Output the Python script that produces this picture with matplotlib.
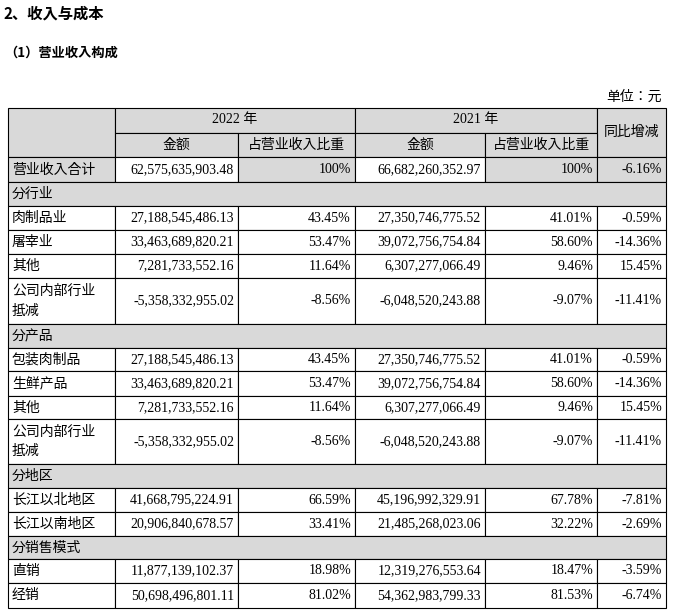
import matplotlib.pyplot as plt
from matplotlib import font_manager
from matplotlib.patches import Rectangle

# find an installed CJK family by its real registered name
cjk_names = sorted({f.name for f in font_manager.fontManager.ttflist if 'CJK' in f.name})
cjk = next((n for n in cjk_names if 'SC' in n), cjk_names[0] if cjk_names else 'DejaVu Sans')
plt.rcParams['font.family'] = ['Liberation Serif', cjk]

# table data
row_labels = ['营业收入合计', '分行业', '肉制品业', '屠宰业', '其他', '公司内部行业\n抵减',
              '分产品', '包装肉制品', '生鲜产品', '其他', '公司内部行业\n抵减',
              '分地区', '长江以北地区', '长江以南地区', '分销售模式', '直销', '经销']
amount_2022 = ['62,575,635,903.48', None, '27,188,545,486.13', '33,463,689,820.21', '7,281,733,552.16',
               '-5,358,332,955.02', None, '27,188,545,486.13', '33,463,689,820.21', '7,281,733,552.16',
               '-5,358,332,955.02', None, '41,668,795,224.91', '20,906,840,678.57', None,
               '11,877,139,102.37', '50,698,496,801.11']
share_2022 = ['100%', None, '43.45%', '53.47%', '11.64%', '-8.56%', None, '43.45%', '53.47%', '11.64%',
              '-8.56%', None, '66.59%', '33.41%', None, '18.98%', '81.02%']
amount_2021 = ['66,682,260,352.97', None, '27,350,746,775.52', '39,072,756,754.84', '6,307,277,066.49',
               '-6,048,520,243.88', None, '27,350,746,775.52', '39,072,756,754.84', '6,307,277,066.49',
               '-6,048,520,243.88', None, '45,196,992,329.91', '21,485,268,023.06', None,
               '12,319,276,553.64', '54,362,983,799.33']
share_2021 = ['100%', None, '41.01%', '58.60%', '9.46%', '-9.07%', None, '41.01%', '58.60%', '9.46%',
              '-9.07%', None, '67.78%', '32.22%', None, '18.47%', '81.53%']
yoy = ['-6.16%', None, '-0.59%', '-14.36%', '15.45%', '-11.41%', None, '-0.59%', '-14.36%', '15.45%',
       '-11.41%', None, '-7.81%', '-2.69%', None, '-3.59%', '-6.74%']

col_x = [8, 115, 238, 355, 485, 597, 666]
row_y = [157, 182, 206, 230, 254, 278, 324, 348, 371, 396, 419, 464, 488, 512, 536, 559, 583, 608]
gray = '#d9d9d9'

fig = plt.figure(figsize=(6.74, 6.13), dpi=100)
ax = fig.add_axes([0, 0, 1, 1])
ax.set_xlim(0, 674)
ax.set_ylim(613, 0)
ax.axis('off')


def cell(x0, x1, y0, y1, color='white'):
    ax.add_patch(Rectangle((x0, y0), x1 - x0, y1 - y0, facecolor=color, edgecolor='black', lw=0.8))


def cjk_text(x, y, s, **kw):
    ax.text(x, y, s, family=cjk, **kw)


fs = 10
cjk_text(4, 14, '2、收入与成本', fontsize=11, fontweight='bold', va='center')
cjk_text(4, 53, '（1）营业收入构成', fontsize=9.5, fontweight='bold', va='center')
cjk_text(662, 97, '单位：元', fontsize=fs, ha='right', va='center')

# header
cell(col_x[0], col_x[1], 108, 157, gray)
cell(col_x[1], col_x[3], 108, 133, gray)
cell(col_x[3], col_x[5], 108, 133, gray)
cell(col_x[5], col_x[6], 108, 157, gray)
for i in range(1, 5):
    cell(col_x[i], col_x[i + 1], 133, 157, gray)
ax.text((col_x[1] + col_x[3]) / 2, 120, '2022 年', fontsize=fs, ha='center', va='center')
ax.text((col_x[3] + col_x[5]) / 2, 120, '2021 年', fontsize=fs, ha='center', va='center')
cjk_text((col_x[5] + col_x[6]) / 2, 132, '同比增减', fontsize=fs, ha='center', va='center')
for i, lab in enumerate(['金额', '占营业收入比重', '金额', '占营业收入比重']):
    cjk_text((col_x[i + 1] + col_x[i + 2]) / 2, 145, lab, fontsize=fs, ha='center', va='center')

for r, lab in enumerate(row_labels):
    y0, y1 = row_y[r], row_y[r + 1]
    ym = (y0 + y1) / 2
    if amount_2022[r] is None:
        cell(col_x[0], col_x[6], y0, y1, gray)
        cjk_text(col_x[0] + 4, ym, lab, fontsize=fs, va='center')
        continue
    total = r == 0
    cell(col_x[0], col_x[1], y0, y1, gray if total else 'white')
    cjk_text(col_x[0] + 4, ym, lab, fontsize=fs, va='center', linespacing=1.5)
    vals = [amount_2022[r], share_2022[r], amount_2021[r], share_2021[r], yoy[r]]
    for c, v in enumerate(vals):
        color = gray if total and c in (1, 3, 4) else 'white'
        cell(col_x[c + 1], col_x[c + 2], y0, y1, color)
        ax.text(col_x[c + 2] - 4, ym, v, fontsize=fs, ha='right', va='center')

fig.savefig('out.png', dpi=100)
